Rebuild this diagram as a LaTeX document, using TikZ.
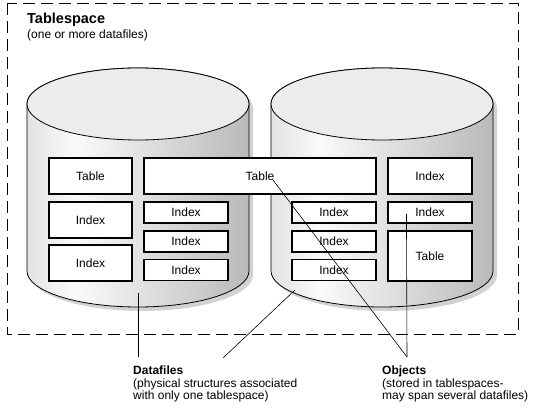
\documentclass[tikz,border=0pt]{standalone}
\usepackage{fontspec}
\setmainfont{Liberation Sans}
\pgfdeclarehorizontalshading{cylshade}{100bp}{color(0bp)=(gray!22); color(25bp)=(gray!22); color(36bp)=(gray!4); color(75bp)=(gray!55); color(100bp)=(gray!55)}
\begin{document}
\begin{tikzpicture}[x=1pt, y=1pt,
  objbox/.style={draw, line width=1.1pt, fill=white, inner sep=0pt, font=\fontsize{12}{14}\selectfont},
  bigbox/.style={objbox, minimum width=83pt, minimum height=36pt},
  slimbox/.style={objbox, minimum width=84pt, minimum height=21pt},
  leader/.style={line width=0.6pt},
  lbl/.style={anchor=north west, inner sep=0pt, align=left, font=\fontsize{12}{12.5}\selectfont}]
\useasboundingbox (0,0) rectangle (554,-411);

\draw[dash pattern=on 12pt off 6pt, line width=0.7pt] (7,-3) rectangle (518,-334);
\node[anchor=base west, inner sep=0pt, font=\fontsize{14.5}{16}\selectfont\bfseries] (tsTitle) at (27,-24) {Tablespace};
\node[anchor=base west, inner sep=0pt, font=\fontsize{12}{14}\selectfont] (tsNote) at (27,-39) {(one or more datafiles)};

\foreach \cx in {138,382}{
  \fill[gray!35, xshift=4pt, yshift=-4pt] (\cx-111,-104) -- (\cx-111,-271) arc (180:360:111 and 36) -- (\cx+111,-104) arc (0:180:111 and 36) -- cycle;
  \draw[shading=cylshade, line width=0.8pt] (\cx-111,-104) -- (\cx-111,-271) arc (180:360:111 and 36) -- (\cx+111,-104) arc (0:180:111 and 36) -- cycle;
  \draw[fill=gray!15, line width=0.8pt] (\cx,-104) ellipse (111pt and 36pt);
}

% left datafile
\node[bigbox] (tabL) at (90.5,-176) {Table};
\node[bigbox] (idxL1) at (90.5,-220) {Index};
\node[bigbox] (idxL2) at (90.5,-263) {Index};
\node[objbox, minimum width=232pt, minimum height=36pt] (tabBig) at (260,-176) {Table};
\node[slimbox] (idxM1) at (186,-212.5) {Index};
\node[slimbox] (idxM2) at (186,-241.5) {Index};
\node[slimbox] (idxM3) at (186,-270) {Index};

% right datafile
\node[slimbox] (idxR1) at (334,-212.5) {Index};
\node[slimbox] (idxR2) at (334,-241.5) {Index};
\node[slimbox] (idxR3) at (334,-270) {Index};
\node[bigbox, minimum width=84pt] (idxT) at (430,-176) {Index};
\node[slimbox] (idxS) at (430,-212.5) {Index};
\node[objbox, minimum width=84pt, minimum height=50pt] (tabR) at (430,-256) {Table};

\node[lbl] (dfLbl) at (133,-366) {\textbf{Datafiles}\\(physical structures associated\\with only one tablespace)};
\node[lbl] (obLbl) at (382,-366) {\textbf{Objects}\\(stored in tablespaces-\\may span several datafiles)};

\coordinate (dfA) at (138,-293);
\coordinate (dfB) at (295,-290);
\coordinate (dfEndA) at (138,-357);
\coordinate (dfEndB) at (223,-358);
\coordinate (obEnd) at (407,-357);
\draw[leader] (dfA) -- (dfEndA);
\draw[leader] (dfB) -- (dfEndB);
\draw[leader] ([xshift=13pt, yshift=-4pt]tabBig.center) -- (obEnd);
\draw[leader] ([xshift=19pt, yshift=-1.5pt]idxS.west) -- (obEnd);
\end{tikzpicture}
\end{document}
